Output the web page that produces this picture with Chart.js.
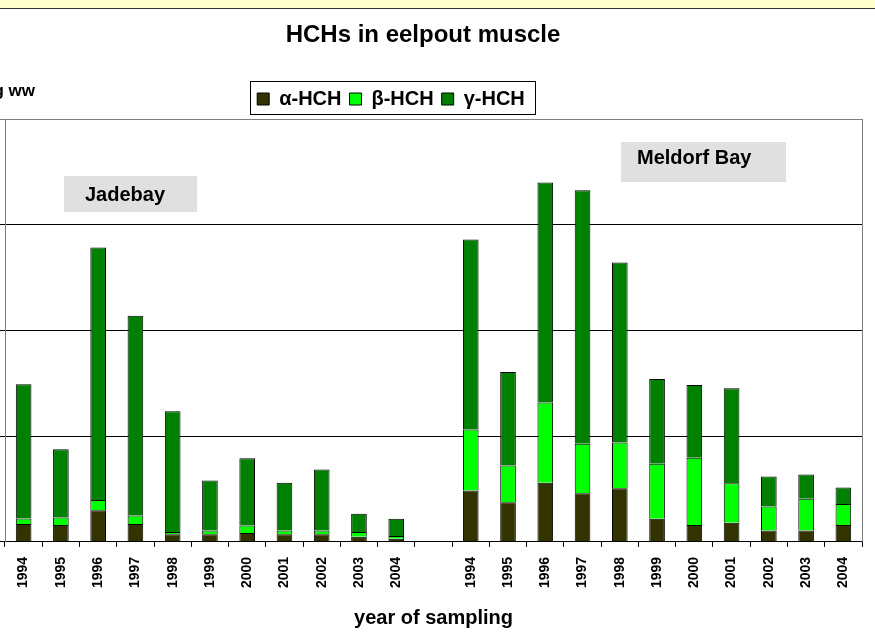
<!DOCTYPE html>
<html>
<head>
<meta charset="utf-8">
<script src="https://cdn.jsdelivr.net/npm/chart.js@4/dist/chart.umd.min.js"></script>
<style>
  html, body { margin: 0; padding: 0; background: #fff; overflow: hidden; }
  #wrap { position: relative; width: 875px; height: 637px; overflow: hidden; }
  #band { position: absolute; left: 0; top: 0; width: 875px; height: 8px; background: #ffffcc; border-bottom: 1px solid #333; z-index: 2; }
  #myChartHCH { position: absolute; left: -80px; top: 0; }
</style>
</head>
<body>
<div id="wrap">
  <div id="band"></div>
  <canvas id="myChartHCH" width="955" height="637"></canvas>
</div>
<script>
// === data (two sites, gap between them)
var years = ["1994", "1995", "1996", "1997", "1998", "1999", "2000", "2001", "2002", "2003", "2004"];
var labels = years.concat([""], years);

var alphaJade = [0.17, 0.16, 0.30, 0.17, 0.073, 0.073, 0.083, 0.073, 0.073, 0.048, 0.03];
var betaJade = [0.05, 0.07, 0.095, 0.08, 0.02, 0.035, 0.072, 0.035, 0.035, 0.045, 0.025];
var totalJade = [1.49, 0.875, 2.785, 2.14, 1.236, 0.58, 0.79, 0.56, 0.684, 0.266, 0.219];

var alphaMeld = [0.485, 0.374, 0.558, 0.459, 0.507, 0.219, 0.159, 0.18, 0.107, 0.107, 0.159];
var betaMeld = [0.577, 0.349, 0.76, 0.47, 0.434, 0.52, 0.637, 0.374, 0.228, 0.30, 0.2];
var totalMeld = [2.86, 1.606, 3.40, 3.327, 2.643, 1.54, 1.483, 1.454, 0.618, 0.637, 0.513];

var gammaJade = totalJade.map(function (t, i) { return +(t - alphaJade[i] - betaJade[i]).toFixed(3); });
var gammaMeld = totalMeld.map(function (t, i) { return +(t - alphaMeld[i] - betaMeld[i]).toFixed(3); });

var alphaHCH = alphaJade.concat([null], alphaMeld);
var betaHCH = betaJade.concat([null], betaMeld);
var gammaHCH = gammaJade.concat([null], gammaMeld);

var OFF = 80; // canvas sticks out left of the page, as in the cropped picture
var FONT = "'Liberation Sans', Arial, sans-serif";

var extras = {
  id: "extras",
  afterDraw: function (chart) {
    var ctx = chart.ctx;
    var a = chart.chartArea;
    ctx.save();
    // plot frame right side
    ctx.strokeStyle = "#808080";
    ctx.lineWidth = 1;
    ctx.beginPath();
    ctx.moveTo(a.right + 0.5, a.top);
    ctx.lineTo(a.right + 0.5, a.bottom);
    ctx.stroke();

    // title
    ctx.fillStyle = "#000";
    ctx.font = "bold 24px " + FONT;
    ctx.textAlign = "center";
    ctx.textBaseline = "middle";
    ctx.fillText("HCHs in eelpout muscle", 423 + OFF, 35);

    // y axis unit, cut off at the left
    ctx.font = "bold 17px " + FONT;
    ctx.textAlign = "right";
    ctx.fillText("ng/g ww", 35 + OFF, 91);

    // legend frame
    var hb = chart.legend.legendHitBoxes;
    if (hb && hb.length) {
      var l = hb[0].left - 7, r = hb[hb.length - 1].left + hb[hb.length - 1].width + 10;
      var t = hb[0].top - 8, h = hb[0].height + 13;
      ctx.strokeStyle = "#000";
      ctx.strokeRect(Math.round(l) + 0.5, Math.round(t) + 0.5, Math.round(r - l), Math.round(h));
    }

    // site labels
    ctx.font = "bold 20px " + FONT;
    ctx.textAlign = "left";
    ctx.fillStyle = "#e0e0e0";
    ctx.fillRect(64 + OFF, 176, 133, 36);
    ctx.fillRect(621 + OFF, 142, 165, 40);
    ctx.fillStyle = "#000";
    ctx.fillText("Jadebay", 85 + OFF, 195);
    ctx.fillText("Meldorf Bay", 637 + OFF, 158);
    ctx.restore();
  }
};

var chHCH = document.getElementById("myChartHCH").getContext("2d");

var myChartHCH = new Chart(chHCH, {
  type: "bar",
  plugins: [extras],
  data: {
    labels: labels,
    datasets: [
      {
        label: "α-HCH",
        data: alphaHCH,
        backgroundColor: "#333300",
        borderColor: "#000000",
        borderWidth: 1,
      },
      {
        label: "β-HCH",
        data: betaHCH,
        backgroundColor: "#00ff00",
        borderColor: "#000000",
        borderWidth: 1,
      },
      {
        label: "γ-HCH",
        data: gammaHCH,
        backgroundColor: "#008000",
        borderColor: "#000000",
        borderWidth: 1,
      },
    ],
  },
  options: {
    responsive: false,
    animation: false,
    devicePixelRatio: 1,
    layout: { padding: { top: 81, right: 13, left: 0, bottom: 7 } },
    datasets: { bar: { barPercentage: 0.42, categoryPercentage: 1 } },
    plugins: {
      title: { display: false },
      tooltip: { enabled: false },
      legend: {
        position: "top",
        labels: {
          color: "#000",
          font: { family: FONT, size: 20, weight: "bold" },
          boxWidth: 12,
          boxHeight: 12,
          padding: 8,
        },
      },
    },
    scales: {
      x: {
        stacked: true,
        grid: { display: true, drawOnChartArea: false, drawTicks: true, tickLength: 5, color: "#000" },
        border: { color: "#000" },
        ticks: {
          color: "#000",
          font: { family: FONT, size: 14, weight: "bold" },
          minRotation: 90,
          maxRotation: 90,
          autoSkip: false,
          padding: 10,
        },
        title: {
          display: true,
          text: "year of sampling",
          color: "#000",
          font: { family: FONT, size: 20, weight: "bold" },
          padding: { top: 8, bottom: 0 },
        },
      },
      y: {
        stacked: true,
        min: 0,
        max: 4,
        afterFit: function (scale) { scale.width = 85; },
        grid: {
          color: function (c) { return c.tick && c.tick.value === 4 ? "#808080" : "#000"; },
          tickLength: 5,
        },
        border: { color: "#808080" },
        ticks: {
          stepSize: 1,
          color: "#000",
          font: { family: FONT, size: 14, weight: "bold" },
          padding: 12,
        },
      },
    },
  },
});
</script>
</body>
</html>
